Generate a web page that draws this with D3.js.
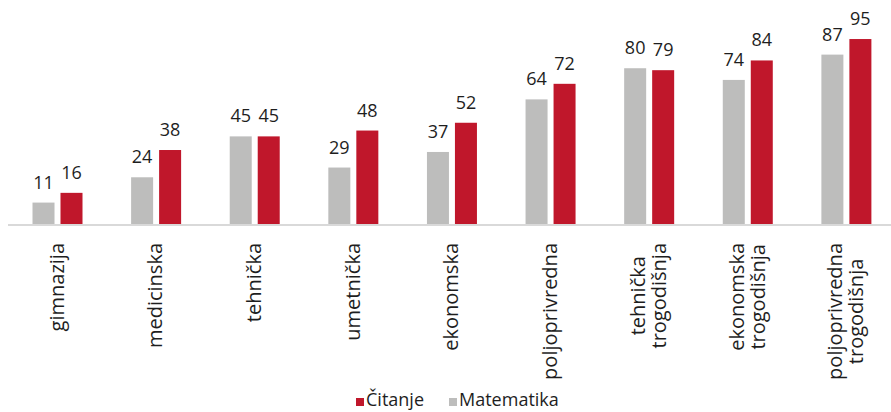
<!DOCTYPE html>
<html>
<head>
<meta charset="utf-8">
<script src="https://cdn.jsdelivr.net/npm/d3@7"></script>
<style>
  body { margin: 0; background: #fff; }
  svg { display: block; font-family: "Open Sans", sans-serif; }
</style>
</head>
<body>
<svg width="891" height="412"></svg>
<script>
// categories (lines of each label split with |)
const categories = ["gimnazija", "medicinska", "tehnička", "umetnička", "ekonomska",
  "poljoprivredna", "tehnička|trogodišnja", "ekonomska|trogodišnja", "poljoprivredna|trogodišnja"];
const series = ["Matematika", "Čitanje"];
const matematika = [11, 24, 45, 29, 37, 64, 80, 74, 87];
const citanje = [16, 38, 45, 48, 52, 72, 79, 84, 95];
const colors = {"Matematika": "#bdbdbc", "Čitanje": "#c0172b"};

const svg = d3.select("svg");
const baseY = 224;

const x = d3.scaleBand().domain(categories).range([8.5, 896]);
const x1 = d3.scaleBand().domain(series).range([24, 74]).paddingInner(0.214);
const y = d3.scaleLinear().domain([0, 100]).range([baseY, 29.3]);

const rows = categories.map((c, i) => ({cat: c, vals: [
  {key: "Matematika", v: matematika[i]},
  {key: "Čitanje", v: citanje[i]}
]}));

// axis line
svg.append("line")
  .attr("x1", 8).attr("x2", 891)
  .attr("y1", baseY + 1).attr("y2", baseY + 1)
  .attr("stroke", "#d9d9d9").attr("stroke-width", 2);

const g = svg.selectAll("g.cat").data(rows).enter().append("g")
  .attr("class", "cat")
  .attr("transform", d => "translate(" + x(d.cat) + ",0)");

g.selectAll("rect").data(d => d.vals).enter().append("rect")
  .attr("x", d => x1(d.key))
  .attr("width", x1.bandwidth())
  .attr("y", d => y(d.v))
  .attr("height", d => baseY - y(d.v))
  .attr("fill", d => colors[d.key]);

g.selectAll("text.val").data(d => d.vals).enter().append("text")
  .attr("class", "val")
  .attr("x", d => x1(d.key) + x1.bandwidth() / 2)
  .attr("y", d => y(d.v) - 14)
  .attr("text-anchor", "middle")
  .style("font-size", "18px")
  .attr("fill", "#1e1e1e")
  .text(d => d.v);

// category labels, rotated
const lab = svg.selectAll("g.lab").data(categories).enter().append("g")
  .attr("class", "lab")
  .attr("transform", d => "translate(" + (x(d) + x.bandwidth() / 2) + "," + (baseY + 19) + ") rotate(-90)");

lab.each(function(d) {
  const lines = d.split("|");
  const el = d3.select(this);
  const lh = 21;
  const texts = lines.map((t, i) => el.append("text")
    .attr("y", (i - (lines.length - 1) / 2) * lh + 6)
    .style("font-size", "20px")
    .attr("fill", "#1e1e1e")
    .text(t));
  const maxW = d3.max(texts, t => t.node().getComputedTextLength());
  texts.forEach(t => t.attr("x", -maxW / 2).attr("text-anchor", "middle"));
});

// legend
const legend = [{key: "Čitanje", x: 356}, {key: "Matematika", x: 449}];
const lg = svg.selectAll("g.leg").data(legend).enter().append("g")
  .attr("transform", d => "translate(" + d.x + ",398)");
lg.append("rect").attr("width", 8).attr("height", 8).attr("fill", d => colors[d.key]);
lg.append("text").attr("x", 10).attr("y", 8)
  .style("font-size", "18px").attr("fill", "#1e1e1e")
  .text(d => d.key);
</script>
</body>
</html>
